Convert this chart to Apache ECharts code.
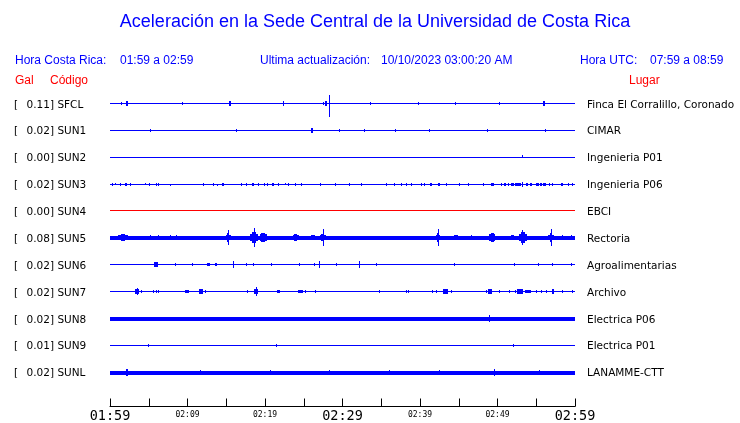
<!DOCTYPE html>
<html>
<head>
<meta charset="utf-8">
<script src="https://cdn.jsdelivr.net/npm/echarts@6/dist/echarts.min.js"></script>
<style>html,body{margin:0;padding:0;background:#fff}#c{width:740px;height:423px}</style>
</head>
<body>
<div id="c"></div>
<script>
// ---------------- DATA ----------------
const titleText = 'Aceleración en la Sede Central de la Universidad de Costa Rica';
const headerLocal = ['Hora Costa Rica:', '01:59 a 02:59'];
const headerUpdate = ['Ultima actualización:', '10/10/2023 03:00:20 AM'];
const headerUTC = ['Hora UTC:', '07:59 a 08:59'];
const columnHeads = ['Gal', 'Código', 'Lugar'];

const stations = ['SFCL', 'SUN1', 'SUN2', 'SUN3', 'SUN4', 'SUN5', 'SUN6', 'SUN7', 'SUN8', 'SUN9', 'SUNL'];
const galValues = ['0.11', '0.02', '0.00', '0.02', '0.00', '0.08', '0.02', '0.02', '0.02', '0.01', '0.02'];
const places = ['Finca El Corralillo, Coronado', 'CIMAR', 'Ingenieria P01', 'Ingenieria P06', 'EBCI', 'Rectoria',
  'Agroalimentarias', 'Archivo', 'Electrica P06', 'Electrica P01', 'LANAMME-CTT'];

// time axis in minutes after 01:59
const tickMinutes = [0, 10, 20, 30, 40, 50, 60];
const tickLabels = ['01:59', '02:09', '02:19', '02:29', '02:39', '02:49', '02:59'];
const majorLabels = ['01:59', '02:29', '02:59'];

// background noise level of each trace [up, down] (amplitude units, 27 per trace spacing)
const baseNoise = [[0,0],[0,0],[0,0],[0,0],[0,0],[1,2],[0,0],[0,0],[1,2],[0,0],[1,2]];

// bursts per trace: [startMinute, endMinute, upAmplitude, downAmplitude]
const evSFCL = [[1.38,1.38,1,1],[2.0,2.3,2,2],[9.23,9.23,1.5,1.5],[15.3,15.6,2,2],[22.36,22.36,2,2],
  [27.46,27.46,1.5,1.5],[27.8,28.0,2.5,2.5],[28.23,28.23,8,13],[33.5,33.5,1,1],[39.7,39.7,1,1],
  [44.5,44.5,1,1],[50.2,50.2,1,1],[55.9,56.1,2,2]];
const evSUN1 = [[5.15,5.15,1,1],[16.2,16.2,1,1],[25.9,26.2,2,2],[29.6,29.6,1,1],[32.8,32.8,1,1],
  [36.8,36.8,1,1],[41.2,41.2,1,1],[48.7,48.7,1,1],[56.1,56.1,1,1]];
const evSUN2 = [[53.2,53.2,2,0]];
const evSUN3 = [[0.22,0.22,1,1],[0.64,0.64,1,0],[1.29,1.29,1,1],[1.93,2.23,1,1.5],[2.58,2.58,1,1],
  [4.51,4.51,1,0],[5.06,5.06,1,1],[5.88,6.0,1,1.5],[6.2,6.35,1,1.5],[7.73,7.73,0,1.5],
  [12.01,12.01,1,1],[13.30,13.30,1,1],[13.87,13.87,0,1],[14.45,14.7,1,1.5],[16.96,16.96,1,1],
  [17.60,17.60,1,1],[18.3,18.55,1,1.5],[19.10,19.10,1,1],[19.87,20.0,1,1.5],[20.2,20.38,1,1.5],[20.9,21.1,1,1.5],
  [21.67,21.67,1,1],[22.53,22.53,1,0],[22.96,22.96,1,1],[23.82,23.82,1,1],[24.68,24.68,1,1],
  [27.04,27.04,1,1],[28.97,28.97,1,1],[30.90,30.90,1,1],[32.45,32.45,1,1],[35.63,35.63,1,1],
  [36.70,36.70,1,1],[37.56,37.56,1,1],[38.20,38.20,1,1],[38.85,38.85,1,1],[40.14,40.14,1,1],
  [40.56,40.56,1,1],[41.3,41.5,1,1.5],[42.35,42.55,1,1.5],[43.35,43.35,1,1],[45.07,45.07,1,1],
  [46.14,46.14,1,1],[48.07,48.07,1,1],[49.15,49.5,1,1.5],[50.44,50.44,1,1],[50.86,51.1,1,1.5],[51.3,51.5,1,1.5],
  [51.72,52.1,1,1.5],[52.3,53.01,1,1.5],[53.22,53.22,2.5,2.5],[53.65,53.9,1,1.5],[54.2,54.51,1,1.5],
  [54.94,55.3,1,1.5],[55.5,55.7,1,1.5],[55.9,56.23,1,1.5],[56.6,56.6,1,1],
  [57.08,57.08,1,1],[58.2,58.45,1,1.5],[59.1,59.1,1,1],[59.65,59.65,1,1]];
const evSUN4 = [];
const evSUN5 = [[1.03,2.32,2,2],[1.4,1.9,3,3],[5.15,5.15,2,2],[6.18,6.18,2,2],[7.73,7.73,2,2],[8.50,8.50,2,2],
  [11.85,11.85,1.5,1.5],[13.78,13.78,1.5,1.5],[14.94,15.58,2.5,2.5],[15.1,15.3,4,4],[15.19,15.19,7,7],
  [18.03,19.06,3,3],[18.3,18.8,5,5],[18.54,18.54,9,9],[19.31,20.21,3,3],[19.5,20.0,4.5,4.5],
  [23.56,24.33,2,2],[23.8,24.1,3,3],[25.9,26.4,2,2],[27.04,27.81,2.5,2.5],[27.2,27.6,3.5,3.5],
  [27.42,27.42,8,8],[37.98,37.98,1.5,1.5],[42.1,42.62,2.5,2.5],[42.25,42.5,4,4],[42.36,42.36,8,8],
  [44.4,44.9,2.5,2.5],[46.61,46.61,2,2],[48.93,49.70,3,3],[49.1,49.5,4.5,4.5],[51.76,52.14,2.5,2.5],
  [52.79,53.82,3,3],[53.0,53.5,5,5],[53.18,53.18,7,7],[56.52,57.30,2.5,2.5],[56.75,57.05,4,4],
  [56.91,56.91,8,8],[58.32,58.32,2,2],[59.48,59.48,2,2]];
const evSUN6 = [[5.67,6.18,2,2],[8.37,8.37,1.5,1.5],[10.56,10.56,1.5,1.5],[12.5,12.95,1.5,1.5],
  [13.5,13.8,1.5,1.5],[15.84,15.84,3,3],[17.51,17.51,1,1],[18.41,18.41,1.5,1.5],[20.73,20.73,1.5,1.5],
  [24.33,24.33,1.5,1.5],[26.27,26.27,1,1],[26.91,26.91,3,3],[29.10,29.10,1,1],[32.19,32.19,3,3],
  [34.38,34.38,1.5,1.5],[44.42,44.42,1.5,1.5],[52.15,52.15,1,1],[55.24,55.24,1.5,1.5],
  [57.04,57.04,1,1],[59.48,59.48,1.5,1.5]];
const evSUN7 = [[3.22,3.73,2,2],[3.48,3.48,3,3],[3.99,3.99,1,1],[5.54,5.54,1,1],[5.92,5.92,1,1],
  [6.18,6.18,1,1],[9.66,10.17,1.5,1.5],[11.46,11.97,2,2],[12.23,12.23,1,1],[17.64,17.64,1,1],
  [18.54,19.06,2,2],[18.80,18.80,4,4],[21.6,21.9,1.5,1.5],[24.21,24.85,1.5,1.5],[25.11,25.11,1,1],
  [26.40,26.40,1,1],[34.76,34.76,1,1],[38.24,38.24,1,1],[38.50,38.50,1,1],[41.59,41.59,1,1],
  [42.10,42.10,1,1],[43.00,43.65,2,2],[44.03,44.03,1,1],[48.54,48.54,1,1],[48.80,49.31,2,2],
  [50.21,50.21,1,1],[51.50,51.50,1,1],[52.27,52.27,1,1],[52.53,53.3,2,2],[53.5,54.34,1.5,1.5],[54.98,54.98,1,1],
  [55.62,55.62,1,1],[56.27,56.27,1,1],[57.0,57.3,2,2],[58.32,58.32,1,1],[59.61,59.61,1,1]];
const evSUN8 = [[48.93,48.93,3,3]];
const evSUN9 = [[4.89,4.89,1,1],[21.37,21.37,1,1],[52.02,52.02,1,1]];
const evSUNL = [[2.1,2.3,3,3],[11.6,11.6,2.5,2.5],[20.6,20.6,2.5,2.5],[28.3,28.3,2.5,2.5],
  [36.05,36.05,2.5,2.5],[42.5,42.5,2.5,2.5],[49.5,49.7,3,3],[55.4,55.4,2.5,2.5]];
const traceEvents = [evSFCL, evSUN1, evSUN2, evSUN3, evSUN4, evSUN5, evSUN6, evSUN7, evSUN8, evSUN9, evSUNL];

// ---------------- STYLE ----------------
const BLUE = '#0000ff', RED = '#ff0000';
const traceColors = [BLUE, BLUE, BLUE, BLUE, RED, BLUE, BLUE, BLUE, BLUE, BLUE, BLUE];
const AMP_PER_TRACE = 27;
const sans = '"Liberation Sans", Arial, sans-serif';
const dejavu = '"DejaVu Sans", sans-serif';
const mono = '"DejaVu Sans Mono", monospace';

// ---------------- BUILD ----------------
const items = [];
stations.forEach((s, i) => {
  items.push([i, 0, 60, baseNoise[i][0], baseNoise[i][1]]);
  traceEvents[i].forEach(e => items.push([i, e[0], e[1], e[2], e[3]]));
});

function renderItem(params, api) {
  const row = api.value(0);
  const a = api.coord([api.value(1), row]);
  const b = api.coord([api.value(2), row]);
  const pxPerAmp = api.size([0, 1])[1] / AMP_PER_TRACE;
  const cy = Math.round(a[1]);
  const up = Math.round(api.value(3) * pxPerAmp);
  const dn = Math.round(api.value(4) * pxPerAmp);
  const x0 = Math.round(a[0]);
  const x1 = Math.max(x0 + 1, Math.round(b[0]));
  return {
    type: 'rect',
    shape: { x: x0, y: cy - up, width: x1 - x0, height: up + dn + 1 },
    style: { fill: traceColors[row] },
    silent: true
  };
}

const chart = echarts.init(document.getElementById('c'), null, { renderer: 'canvas' });
const txt = (text, x, y, size, color, family, align) => ({
  type: 'text', x: x, y: y, silent: true,
  style: { text: text, fill: color, fontSize: size, fontFamily: family, align: align || 'left', verticalAlign: 'middle' }
});
const lbl = { fontSize: 10.5, fontFamily: dejavu, color: '#000', lineHeight: 15, verticalAlign: 'bottom' };

chart.setOption({
  animation: false,
  backgroundColor: '#ffffff',
  grid: { left: 110, right: 165, top: 76, height: 324, containLabel: false },
  xAxis: {
    type: 'value', min: 0, max: 60, interval: 5, position: 'bottom', offset: 8,
    axisLine: { show: true, onZero: false, lineStyle: { color: '#000', width: 1 } },
    axisTick: { show: true, inside: true, length: 8, lineStyle: { color: '#000', width: 1 } },
    splitLine: { show: false },
    axisLabel: {
      interval: 0, margin: 2, showMinLabel: true, showMaxLabel: true, hideOverlap: false,
      formatter: v => {
        const k = tickMinutes.indexOf(v);
        if (k < 0) return '';
        const s = tickLabels[k];
        return majorLabels.includes(s) ? '{big|' + s + '}' : '{small|' + s + '}';
      },
      rich: {
        big: { fontSize: 13.5, fontFamily: mono, color: '#000', lineHeight: 15, verticalAlign: 'middle' },
        small: { fontSize: 8, fontFamily: mono, color: '#000', lineHeight: 13, verticalAlign: 'middle' }
      }
    }
  },
  yAxis: [{
    type: 'value', min: -1, max: 11, interval: 1, inverse: true, position: 'left',
    axisLine: { show: false }, axisTick: { show: false }, splitLine: { show: false },
    axisLabel: {
      margin: 96, align: 'left', verticalAlign: 'middle', lineHeight: 15,
      formatter: v => (v >= 0 && v < stations.length) ? '{a|[}{b|' + galValues[v] + '] ' + stations[v] + '}' : '',
      rich: { a: Object.assign({ width: 12.6 }, lbl), b: lbl }
    }
  }, {
    type: 'value', min: -1, max: 11, interval: 1, inverse: true, position: 'right',
    axisLine: { show: false }, axisTick: { show: false }, splitLine: { show: false },
    axisLabel: {
      margin: 12, align: 'left', verticalAlign: 'middle', lineHeight: 15,
      formatter: v => (v >= 0 && v < places.length) ? '{b|' + places[v] + '}' : '',
      rich: { b: lbl }
    }
  }],
  series: [{
    type: 'custom', renderItem: renderItem, data: items, clip: false,
    encode: { x: [1, 2], y: 0 }, silent: true
  }],
  graphic: [
    txt(titleText, 375, 22, 18, BLUE, sans, 'center'),
    txt(headerLocal[0], 15, 61, 12, BLUE, sans),
    txt(headerLocal[1], 120, 61, 12, BLUE, sans),
    txt(headerUpdate[0], 260, 61, 12, BLUE, sans),
    txt(headerUpdate[1], 381, 61, 12, BLUE, sans),
    txt(headerUTC[0], 580, 61, 12, BLUE, sans),
    txt(headerUTC[1], 650, 61, 12, BLUE, sans),
    txt(columnHeads[0], 15, 81, 12, RED, sans),
    txt(columnHeads[1], 50, 81, 12, RED, sans),
    txt(columnHeads[2], 629, 81, 12, RED, sans)
  ]
});
</script>
</body>
</html>
